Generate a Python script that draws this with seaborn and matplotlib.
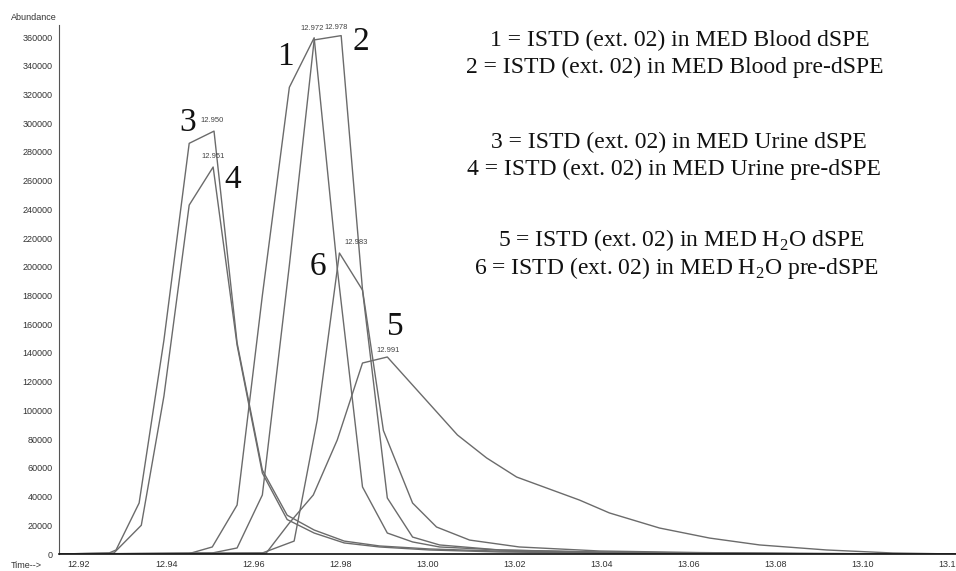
import matplotlib
matplotlib.use("Agg")
import pandas as pd
import matplotlib.pyplot as plt
import seaborn as sns
from matplotlib.ticker import MultipleLocator, FormatStrFormatter

# retention time (min) and abundance for each trace
time_1 = [12.9154, 12.9453, 12.9506, 12.9563, 12.9621, 12.9683, 12.9740, 12.9793, 12.9851,
          12.9908, 12.9966, 13.0028, 13.0166, 13.0395, 13.0625, 13.0855, 13.1214]
abund_1 = [0, 300, 4900, 34100, 180000, 325000, 359500, 199000, 46700,
           14600, 8400, 4900, 2800, 1400, 700, 300, 0]

time_2 = [12.9154, 12.9506, 12.9563, 12.9621, 12.9683, 12.9740, 12.9802, 12.9851, 12.9899,
          12.9966, 13.0021, 13.0097, 13.0211, 13.0395, 13.0625, 13.0855, 13.1214]
abund_2 = [0, 700, 4200, 41100, 201000, 358000, 361000, 184000, 86000,
           35500, 18800, 9700, 4900, 2100, 1000, 400, 0]

time_3 = [12.9154, 12.9269, 12.9285, 12.9338, 12.9395, 12.9453, 12.9510, 12.9563, 12.9621,
          12.9678, 12.9740, 12.9809, 12.9890, 13.0005, 13.0166, 13.0395, 13.0625, 13.1214]
abund_3 = [0, 700, 2800, 35500, 149000, 286000, 294500, 147000, 58500,
           27000, 16700, 9000, 5600, 3500, 2000, 1000, 400, 0]

time_4 = [12.9154, 12.9280, 12.9343, 12.9395, 12.9453, 12.9508, 12.9563, 12.9621, 12.9678,
          12.9740, 12.9809, 12.9890, 13.0005, 13.0166, 13.0395, 13.0625, 13.1214]
abund_4 = [0, 700, 20000, 110000, 243000, 269500, 145500, 56400, 24000,
           14600, 7700, 4900, 2800, 1400, 700, 300, 0]

time_5 = [12.9154, 12.9630, 12.9683, 12.9738, 12.9793, 12.9851, 12.9908, 13.0069, 13.0136,
          13.0205, 13.0349, 13.0418, 13.0533, 13.0648, 13.0763, 13.0917, 13.1069, 13.1214]
abund_5 = [0, 700, 21600, 41100, 79400, 133000, 137200, 82900, 66900,
           53600, 37600, 28600, 18100, 11100, 6300, 2800, 700, 0]

time_6 = [12.9154, 12.9621, 12.9694, 12.9747, 12.9798, 12.9851, 12.9908, 12.9966, 13.0028,
          13.0166, 13.0395, 13.0625, 13.1214]
abund_6 = [0, 700, 9000, 93300, 209600, 183800, 39000, 11800, 6300,
           2800, 1200, 500, 0]

peak_ids = ["1", "2", "3", "4", "5", "6"]
apex_labels = ["12.972", "12.978", "12.950", "12.951", "12.991", "12.983"]
legend_lines = [
    "1 = ISTD (ext. 02) in MED Blood dSPE",
    "2 = ISTD (ext. 02) in MED Blood pre-dSPE",
    "3 = ISTD (ext. 02) in MED Urine dSPE",
    "4 = ISTD (ext. 02) in MED Urine pre-dSPE",
    "5 = ISTD (ext. 02) in MED H$_\\mathregular{2}$O dSPE",
    "6 = ISTD (ext. 02) in MED H$_\\mathregular{2}$O pre-dSPE",
]

times = [time_1, time_2, time_3, time_4, time_5, time_6]
abunds = [abund_1, abund_2, abund_3, abund_4, abund_5, abund_6]
df = pd.concat(
    [pd.DataFrame({"time": t, "abundance": a, "peak": p}) for t, a, p in zip(times, abunds, peak_ids)],
    ignore_index=True,
)

sns.set_style("white")
plt.rcParams["font.family"] = ["Liberation Sans", "DejaVu Sans"]
plt.rcParams["mathtext.fontset"] = "custom"
plt.rcParams["mathtext.rm"] = "Liberation Serif"

W, H = 956, 571
fig = plt.figure(figsize=(W / 100, H / 100), dpi=100)
ax = fig.add_axes([59 / W, 17 / H, (W - 59) / W, (554 - 25) / H])

sns.lineplot(data=df, x="time", y="abundance", hue="peak", palette=["#6b6b6b"] * 6,
             estimator=None, sort=False, linewidth=1.0, legend=False, ax=ax)

ax.set_xlim(12.9154, 13.1214)
ax.set_ylim(0, 368400)
ax.set_xlabel("")
ax.set_ylabel("")

ax.xaxis.set_major_locator(MultipleLocator(0.02))
ax.xaxis.set_minor_locator(MultipleLocator(0.005))
ax.xaxis.set_major_formatter(FormatStrFormatter("%.2f"))
ax.yaxis.set_major_locator(MultipleLocator(20000))
ax.yaxis.set_minor_locator(MultipleLocator(4000))
ax.yaxis.set_major_formatter(FormatStrFormatter("%d"))
ax.tick_params(axis="both", which="major", direction="out", length=3, width=0.8,
               labelsize=6.5, labelcolor="#333333", pad=1.5, color="#333333")
ax.tick_params(axis="both", which="minor", direction="out", length=1.8, width=0.6, color="#555555")

for s in ["top", "right"]:
    ax.spines[s].set_visible(False)
ax.spines["left"].set_color("#555555")
ax.spines["left"].set_linewidth(0.8)
ax.spines["bottom"].set_color("#111111")
ax.spines["bottom"].set_linewidth(1.2)

fig.text(34 / W, 1 - 18 / H, "Abundance", fontsize=6.5, color="#333333", ha="center", va="center")
fig.text(26 / W, 1 - 565 / H, "Time-->", fontsize=6.5, color="#333333", ha="center", va="center")

# apex retention-time labels
offsets = [(-2, 6), (-5, 5), (-2, 7), (0, 7), (1, 3), (17, 7)]
for t, a, lab, off in zip(times, abunds, apex_labels, offsets):
    i = a.index(max(a))
    ax.annotate(lab, (t[i], a[i]), xytext=off, textcoords="offset pixels",
                fontsize=5.5, color="#444444", ha="center", va="bottom")

# large peak numbers
num_pos = {"1": (285, 57), "2": (361, 42), "3": (188, 123), "4": (233, 180),
           "5": (395, 327), "6": (318, 267)}
for p in peak_ids:
    x, y = num_pos[p]
    fig.text(x / W, 1 - y / H, p, fontsize=24, family="Liberation Serif",
             ha="center", va="center", color="#111111")

legend_pos = [(680, 40), (675, 67), (679, 142), (674, 169), (681, 240), (676, 268)]
for txt, (x, y) in zip(legend_lines, legend_pos):
    fig.text(x / W, 1 - y / H, txt, fontsize=17, family="Liberation Serif",
             ha="center", va="center", color="#111111")

fig.savefig("out.png", dpi=100)
